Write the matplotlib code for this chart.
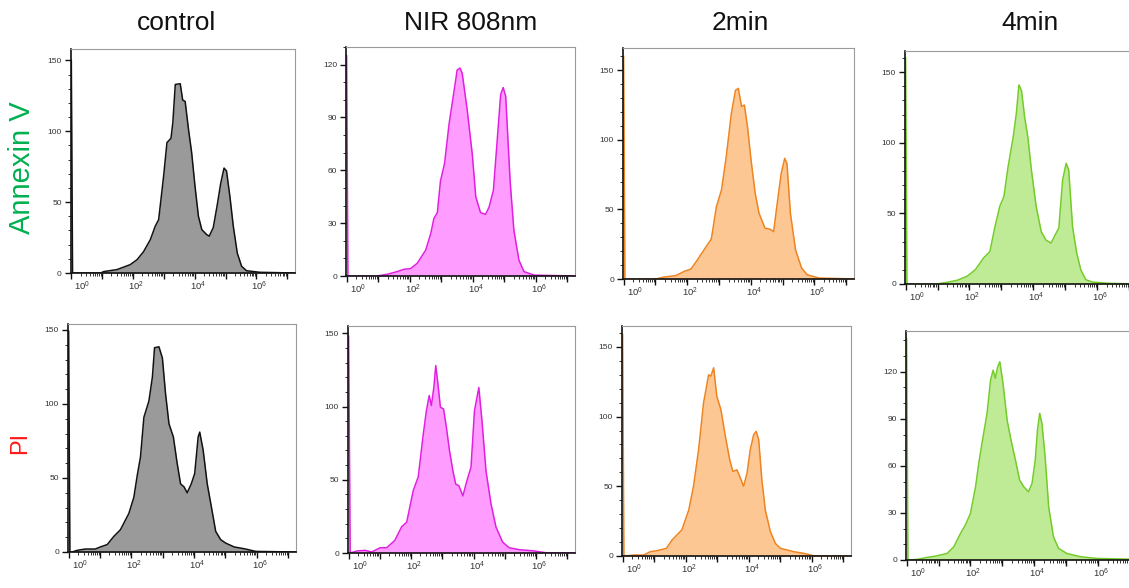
import matplotlib
matplotlib.use('Agg')
import matplotlib.pyplot as plt
import matplotlib.ticker as mticker
import matplotlib.transforms as mtrans
import numpy as np

plt.rcParams['font.family'] = ['Liberation Sans', 'DejaVu Sans']
plt.rcParams['mathtext.fontset'] = 'custom'
plt.rcParams['mathtext.rm'] = 'Liberation Sans'
plt.rcParams['mathtext.it'] = 'Liberation Sans:italic'

# ---------------- data (log10 fluorescence, cell count) ----------------
titles = ['control', 'NIR 808nm', '2min', '4min']
row_labels = ['Annexin V', 'PI']
row_colors = ['#00B050', '#FF1A1A']

annexin_control_log = [0.0, 0.04, 0.95, 1.05, 1.48, 1.91, 2.13, 2.34, 2.56, 2.72, 2.83, 2.88, 2.99, 3.10,
                       3.23, 3.29, 3.37, 3.53, 3.61, 3.69, 3.80, 3.90, 4.01, 4.12, 4.23, 4.39, 4.47, 4.60,
                       4.73, 4.84, 4.95, 5.03, 5.14, 5.25, 5.38, 5.52, 5.68, 6.11, 7.25]
annexin_control_count = [150, 0, 0, 1, 2.4, 5.9, 9.4, 15, 23.5, 33, 37.6, 47, 68, 92,
                         95, 106, 133, 133.5, 122, 121, 101, 85, 61, 40, 30.6, 27, 26, 32,
                         48, 63, 74, 72, 54, 33, 14, 4.7, 1.6, 0.5, 0]

annexin_nir_log = [0.0, 0.04, 0.97, 1.29, 1.61, 1.82, 2.03, 2.24, 2.51, 2.67, 2.77, 2.88, 2.98, 3.11,
                   3.25, 3.41, 3.51, 3.60, 3.67, 3.83, 3.99, 4.10, 4.25, 4.41, 4.52, 4.66, 4.78, 4.89,
                   4.97, 5.05, 5.19, 5.31, 5.47, 5.63, 5.95, 7.25]
annexin_nir_count = [125, 0, 0, 1, 2.5, 3.8, 4.2, 7.2, 14.7, 24, 32.6, 36, 54, 64,
                     86, 105, 117, 118, 115, 94, 69, 45, 36, 35, 39, 48.7, 77, 103,
                     107, 102, 54, 26, 9, 2.5, 0.5, 0]

annexin_2min_log = [0.0, 0.04, 1.01, 1.27, 1.64, 1.91, 2.12, 2.33, 2.60, 2.76, 2.92, 3.08, 3.23, 3.39,
                    3.52, 3.61, 3.71, 3.80, 3.90, 4.01, 4.14, 4.26, 4.45, 4.61, 4.72, 4.82, 4.96, 5.07,
                    5.14, 5.25, 5.41, 5.60, 5.78, 6.15, 7.25]
annexin_2min_count = [160, 0, 0, 1.4, 2.4, 5.5, 7.2, 14, 23.4, 28.7, 52, 64, 88, 119,
                      135.6, 137, 124, 125, 109, 85.5, 61.6, 47.3, 36.5, 35.8, 34, 52, 76, 86.7,
                      83, 47, 21, 7.9, 3, 0.7, 0]

annexin_4min_log = [0.0, 0.04, 0.98, 1.30, 1.61, 1.92, 2.18, 2.44, 2.64, 2.80, 2.95, 3.08, 3.21, 3.37,
                    3.47, 3.55, 3.63, 3.73, 3.83, 3.94, 4.09, 4.25, 4.40, 4.56, 4.66, 4.80, 4.92, 5.03,
                    5.11, 5.23, 5.36, 5.49, 5.65, 5.85, 6.37, 7.25]
annexin_4min_count = [160, 0, 0, 1.2, 2.6, 5.4, 10, 18.4, 23, 40.7, 55, 62, 83, 104,
                      121, 141, 137, 118, 104, 81, 55, 37, 31, 29, 33.7, 39.6, 73.7, 85.5,
                      80.8, 40.7, 21.9, 10, 3, 1.4, 0.5, 0]

pi_control_log = [0.0, 0.04, 0.11, 0.27, 0.53, 0.85, 1.01, 1.23, 1.44, 1.65, 1.92, 2.08, 2.19, 2.29,
                  2.40, 2.56, 2.67, 2.74, 2.88, 2.99, 3.09, 3.20, 3.34, 3.46, 3.57, 3.68, 3.78, 3.91,
                  4.02, 4.13, 4.18, 4.29, 4.42, 4.55, 4.69, 4.85, 5.01, 5.28, 5.60, 5.97, 7.25]
pi_control_count = [149, 0, 0, 1.1, 2, 2, 3.4, 5, 10.5, 15, 26, 37, 52, 64,
                    91, 102, 118, 138, 138.6, 131, 107, 86.6, 77.7, 60, 46, 44, 40, 46,
                    53, 77.7, 81, 68.7, 46, 30.7, 13.9, 8.3, 6, 3.4, 2.2, 0.4, 0]

pi_nir_log = [0.0, 0.05, 0.27, 0.53, 0.74, 1.01, 1.22, 1.48, 1.70, 1.86, 2.07, 2.23, 2.39, 2.49,
              2.58, 2.65, 2.73, 2.79, 2.86, 2.94, 3.04, 3.13, 3.23, 3.34, 3.43, 3.53, 3.66, 3.79,
              3.92, 4.03, 4.17, 4.27, 4.40, 4.56, 4.72, 4.93, 5.14, 5.46, 5.94, 6.31, 7.25]
pi_nir_count = [148, 0, 1.4, 1.8, 0.7, 3.6, 3.6, 8.6, 18, 21, 42.7, 52, 81, 97,
                107.5, 100.7, 113, 128, 115.5, 99.5, 98.4, 86, 70, 56, 47, 46, 39, 49.5,
                58.6, 97, 113, 90.5, 56, 33.6, 17.7, 7.5, 3.6, 2.3, 1.4, 0.2, 0]

pi_2min_log = [0.0, 0.04, 0.08, 0.35, 0.67, 0.88, 1.09, 1.39, 1.57, 1.72, 1.88, 2.10, 2.25, 2.41,
               2.57, 2.73, 2.80, 2.89, 2.99, 3.12, 3.26, 3.40, 3.50, 3.63, 3.74, 3.84, 3.95, 4.05,
               4.16, 4.24, 4.32, 4.42, 4.53, 4.69, 4.85, 5.01, 5.22, 5.43, 5.75, 6.06, 7.25]
pi_2min_count = [159, 0, 0, 0.7, 0.7, 3.1, 3.8, 5.5, 11.5, 15, 18.7, 33, 50, 76,
                 110, 130, 129, 135, 114.5, 105, 86, 69, 60.6, 61.8, 55.8, 50, 59.4, 76,
                 87, 89.4, 83.4, 54.6, 33, 17.5, 9, 5.5, 4.3, 3.1, 1.9, 0.2, 0]

pi_4min_log = [0.0, 0.04, 0.07, 0.33, 0.65, 0.91, 1.27, 1.48, 1.69, 1.84, 2.00, 2.16, 2.26, 2.36,
               2.52, 2.63, 2.71, 2.78, 2.85, 2.92, 3.02, 3.15, 3.27, 3.41, 3.54, 3.67, 3.82, 3.93,
               4.03, 4.10, 4.17, 4.24, 4.34, 4.45, 4.60, 4.76, 5.02, 5.44, 5.96, 7.25]
pi_4min_count = [141, 0, 0, 0.4, 1.7, 2.5, 4.2, 8.5, 17, 22.3, 29.7, 46.7, 61.6, 74.3,
                 93.5, 114.7, 121, 115.8, 123, 126.4, 112.6, 89, 76.5, 63.7, 51, 46.7, 43.5, 48.9,
                 63.7, 82.8, 93.5, 87, 65.8, 34, 14.9, 7.4, 4.2, 2.1, 1, 0.4]

x_tick_decades = [0, 1, 2, 3, 4, 5, 6, 7]
x_label_decades = [0, 2, 4, 6]
y_major_steps = [50, 30, 50, 50, 50, 50, 50, 30]

line_colors = ['#111111', '#E020E0', '#EE8420', '#74CC2A']
fill_colors = ['#9A9A9A', '#FF9CFF', '#FDC793', '#BFEA96']

series = [
    (annexin_control_log, annexin_control_count),
    (annexin_nir_log, annexin_nir_count),
    (annexin_2min_log, annexin_2min_count),
    (annexin_4min_log, annexin_4min_count),
    (pi_control_log, pi_control_count),
    (pi_nir_log, pi_nir_count),
    (pi_2min_log, pi_2min_count),
    (pi_4min_log, pi_4min_count),
]

# ---------------- layout (pixels: left, right, top, bottom) ----------------
W, H = 1129, 588
pos_px = [(70.7, 295, 49, 273), (346, 575, 47, 276), (623, 854, 48, 279), (905, 1137, 51, 284),
          (68, 296, 324, 552), (348, 575, 326, 553), (622, 851, 326, 556), (906, 1138, 331, 560)]
ytops = [158, 130, 166, 165, 154, 155, 165, 146]
title_x = [177, 471, 740, 1030]

fig = plt.figure(figsize=(W / 100, H / 100), dpi=100)
fig.patch.set_facecolor('white')

for i, ((lx, cy), (L, R, T, B)) in enumerate(zip(series, pos_px)):
    col = i % 4
    ax = fig.add_axes([L / W, 1 - B / H, (R - L) / W, (B - T) / H])
    x = np.power(10.0, np.array(lx))
    y = np.array(cy)
    ax.fill_between(x, y, 0, color=fill_colors[col], lw=0, zorder=1)
    ax.plot(x, y, color=line_colors[col], lw=1.1, zorder=2, solid_joinstyle='round')
    ax.set_xscale('log')
    ax.set_xlim(10 ** -0.02, 10 ** 7.25)
    ax.set_ylim(0, ytops[i])

    ax.xaxis.set_major_locator(mticker.FixedLocator([10.0 ** k for k in x_tick_decades]))
    ax.xaxis.set_minor_locator(mticker.LogLocator(base=10, subs=np.arange(2, 10), numticks=20))
    ax.xaxis.set_major_formatter(mticker.NullFormatter())
    ax.xaxis.set_minor_formatter(mticker.NullFormatter())
    ax.yaxis.set_major_locator(mticker.MultipleLocator(y_major_steps[i]))
    ax.yaxis.set_minor_locator(mticker.MultipleLocator(10))

    ax.tick_params(axis='both', which='major', direction='out', length=4.5, width=1.0,
                   color='#111111', labelsize=6, labelcolor='#333333', pad=2)
    ax.tick_params(axis='both', which='minor', direction='out', length=2.5, width=0.6,
                   color='#111111')

    for s in ['top', 'right']:
        ax.spines[s].set_color('#9a9a9a')
        ax.spines[s].set_linewidth(0.8)
    for s in ['left', 'bottom']:
        ax.spines[s].set_color('#111111')
        ax.spines[s].set_linewidth(1.2)

    for k in x_label_decades:
        dx = 3 if k == 0 else -5
        off = mtrans.ScaledTranslation(dx / 100, -7 / 100, fig.dpi_scale_trans)
        trans = mtrans.blended_transform_factory(ax.transData, ax.transAxes) + off
        ax.text(10.0 ** k, 0, r'$10^{%d}$' % k, transform=trans, ha='left', va='top',
                fontsize=6.8, color='#333333', clip_on=False)

for col, t in enumerate(titles):
    fig.text(title_x[col] / W, 1 - 23 / H, t, ha='center', va='center', fontsize=19, color='#111111')

fig.text(22 / W, 1 - 168 / H, row_labels[0], rotation=90, ha='center', va='center',
         fontsize=21, color=row_colors[0])
fig.text(20 / W, 1 - 443 / H, row_labels[1], rotation=90, ha='center', va='center',
         fontsize=17, color=row_colors[1])

fig.savefig('out.png', dpi=100, facecolor='white')
